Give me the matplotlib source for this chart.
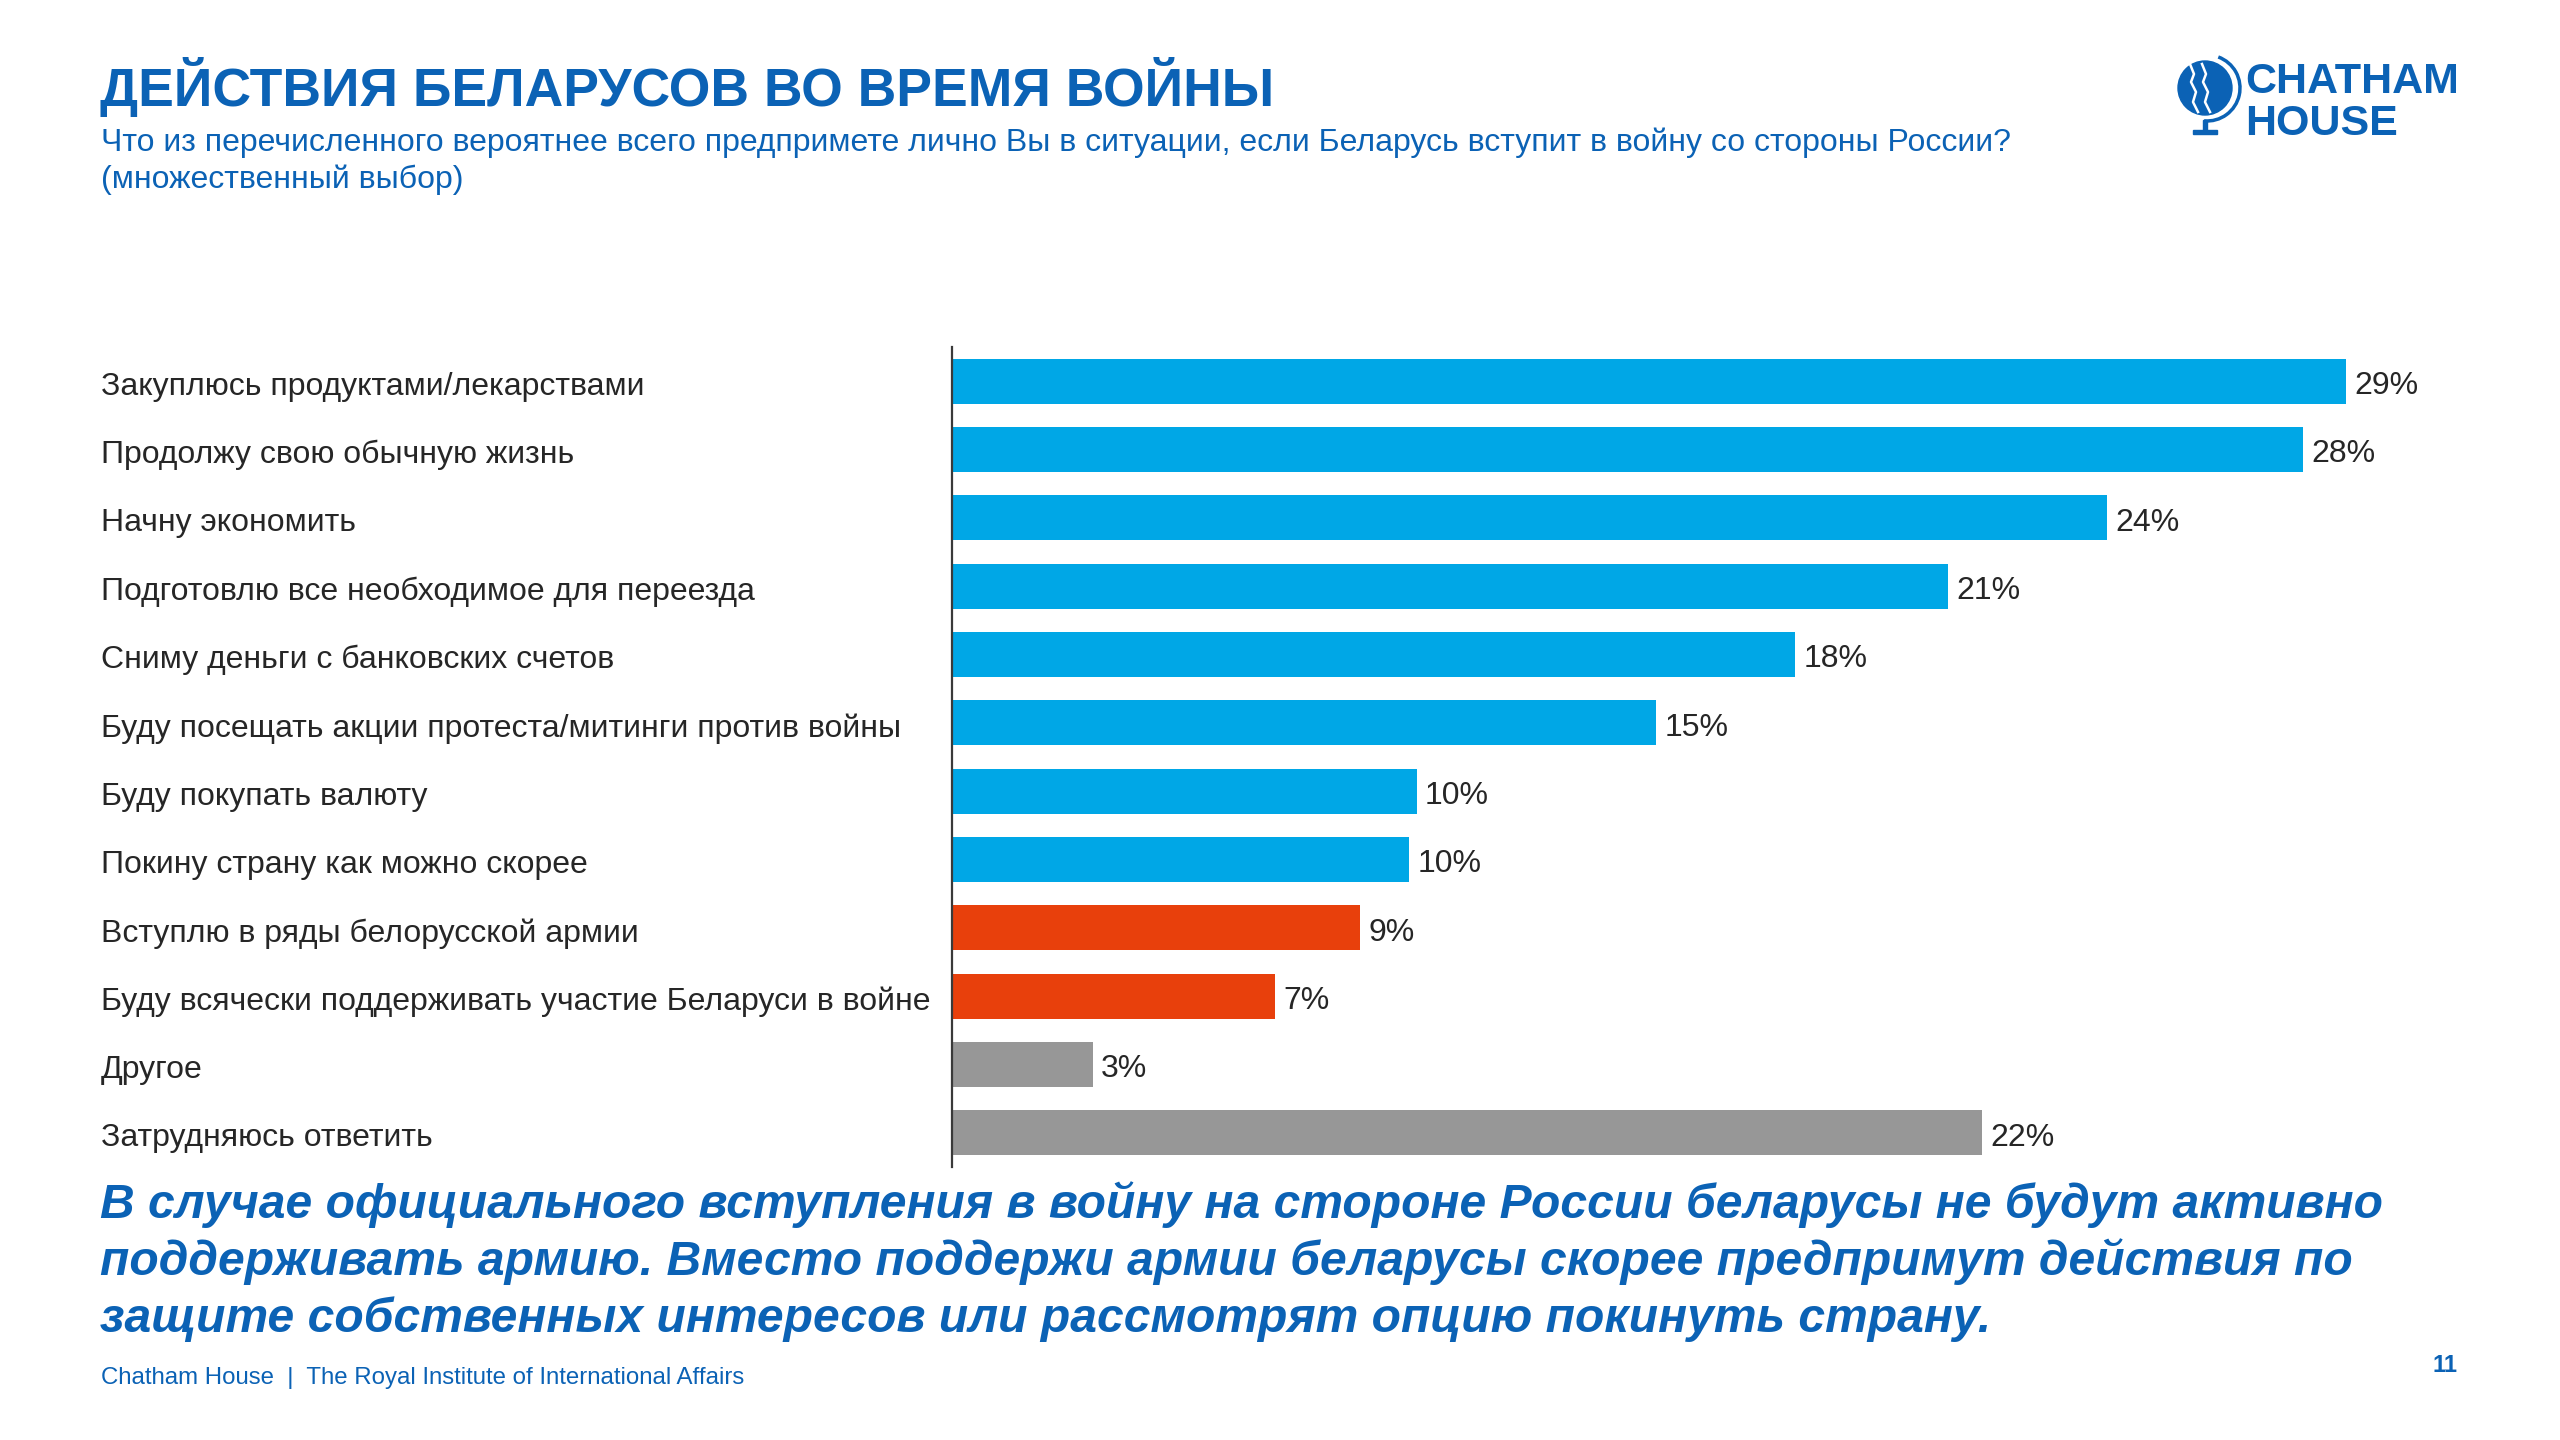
import matplotlib as mpl
mpl.use('Agg')

import matplotlib.pyplot as plt
import matplotlib.transforms as mtransforms
from matplotlib.patches import Circle, Arc, Rectangle

plt.rcParams['font.family'] = ['Liberation Sans', 'DejaVu Sans']

# Data (share of respondents, %)
categories = [
    'Закуплюсь продуктами/лекарствами',
    'Продолжу свою обычную жизнь',
    'Начну экономить',
    'Подготовлю все необходимое для переезда',
    'Сниму деньги с банковских счетов',
    'Буду посещать акции протеста/митинги против войны',
    'Буду покупать валюту',
    'Покину страну как можно скорее',
    'Вступлю в ряды белорусской армии',
    'Буду всячески поддерживать участие Беларуси в войне',
    'Другое',
    'Затрудняюсь ответить',
]
values = [29.1, 28.2, 24.1, 20.8, 17.6, 14.7, 9.7, 9.54, 8.52, 6.74, 2.94, 21.51]
groups = ['civil'] * 8 + ['army'] * 2 + ['other'] * 2

BLUE = '#0b62b5'
COLORS = {'civil': '#00a7e6', 'army': '#e8400c', 'other': '#979797'}

title = 'ДЕЙСТВИЯ БЕЛАРУСОВ ВО ВРЕМЯ ВОЙНЫ'
subtitle = ['Что из перечисленного вероятнее всего предпримете лично Вы в ситуации, '
            'если Беларусь вступит в войну со стороны России?',
            '(множественный выбор)']
conclusion = ['В случае официального вступления в войну на стороне России беларусы не будут активно',
              'поддерживать армию. Вместо поддержи армии беларусы скорее предпримут действия по',
              'защите собственных интересов или рассмотрят опцию покинуть страну.']
footer = 'Chatham House  |  The Royal Institute of International Affairs'

W, H = 2560, 1440
fig = plt.figure(figsize=(25.6, 14.4), dpi=100)


def fx(px):
    return px / W


def fy(py):
    return 1 - py / H


# Bars
ax = fig.add_axes([fx(952), fy(1167), fx(2509) - fx(952), fy(347) - fy(1167)])
ypos = list(range(len(categories)))
bars = ax.barh(ypos, values, height=0.66,
               color=[COLORS[g] for g in groups], zorder=2)
ax.set_xlim(0, 32.5)
ax.set_ylim(len(categories) - 0.5, -0.5)

ax.set_yticks(ypos)
ax.set_yticklabels(categories, fontsize=23, color='#262626', ha='left')
ax.tick_params(axis='y', length=0, pad=(952 - 101) * 0.72)
# nudge the category labels down a touch to sit on the bar centre
shift = mtransforms.ScaledTranslation(0, -0.02, fig.dpi_scale_trans)
for lab in ax.get_yticklabels():
    lab.set_transform(lab.get_transform() + shift)
ax.set_xticks([])
for s in ['top', 'right', 'bottom']:
    ax.spines[s].set_visible(False)
ax.spines['left'].set_color('#3a3a3a')
ax.spines['left'].set_linewidth(1.6)
ax.spines['left'].set_zorder(3)

vlabels = ax.bar_label(bars, labels=[f'{v:.0f}%' for v in values], padding=6,
                       fontsize=23, color='#262626')
for t in vlabels:
    t.xyann = (6, -3.5)

# Header
fig.text(fx(100), fy(106), title, fontsize=38.5, fontweight='bold', color=BLUE,
         va='baseline')
fig.text(fx(101), fy(151), subtitle[0], fontsize=23, color=BLUE, va='baseline')
fig.text(fx(101), fy(188), subtitle[1], fontsize=23, color=BLUE, va='baseline')

# Conclusion
for i, line in enumerate(conclusion):
    fig.text(fx(100), fy(1218 + i * 57), line, fontsize=34.6, fontweight='bold',
             fontstyle='italic', color=BLUE, va='baseline')

# Footer
fig.text(fx(101), fy(1384), footer, fontsize=17.3, color=BLUE, va='baseline')
fig.text(fx(2457), fy(1372), '11', fontsize=17, fontweight='bold', color=BLUE,
         ha='right', va='baseline')

# Chatham House logo (simplified globe)
lax = fig.add_axes([fx(2160), fy(140), fx(2250) - fx(2160), fy(50) - fy(140)])
lax.set_xlim(0, 90)
lax.set_ylim(90, 0)
lax.set_aspect('equal')
lax.axis('off')
lax.add_patch(Circle((45, 38), 27, color=BLUE))
lax.add_patch(Arc((47, 38), 66, 66, theta1=-70, theta2=95, color=BLUE, lw=2.5))
for xs in [(30, 34, 31, 36, 33, 38), (42, 46, 43, 48, 45, 50)]:
    lax.plot(xs, [14, 24, 32, 42, 52, 62], color='white', lw=1.8)
lax.add_patch(Rectangle((43, 70), 4, 10, color=BLUE))
lax.add_patch(Rectangle((33, 80), 24, 4, color=BLUE))

fig.text(fx(2245), fy(93), 'CHATHAM', fontsize=31, fontweight='bold', color=BLUE,
         va='baseline')
fig.text(fx(2245), fy(135), 'HOUSE', fontsize=31, fontweight='bold', color=BLUE,
         va='baseline')

fig.savefig('out.png', dpi=100)
